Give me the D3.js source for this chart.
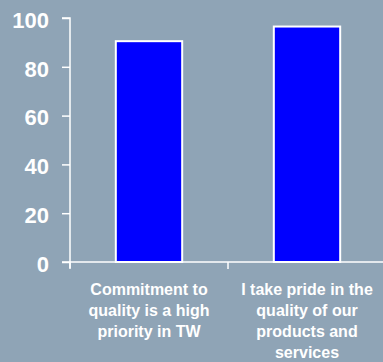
<!DOCTYPE html>
<html>
<head>
<meta charset="utf-8">
<script src="https://cdn.jsdelivr.net/npm/d3@7"></script>
<style>
  html, body { margin: 0; padding: 0; background: #8fa4b6; }
  svg { display: block; }
  text { font-family: "Liberation Sans", Arial, sans-serif; font-weight: bold; fill: #ffffff; }
</style>
</head>
<body>
<svg id="chart" width="383" height="362"></svg>
<script>
const categories = [
  ["Commitment to", "quality is a high", "priority in TW"],
  ["I take pride in the", "quality of our", "products and", "services"]
];
const values = [90.5, 96.5];
const yTicks = [0, 20, 40, 60, 80, 100];

const svg = d3.select("#chart");
const margin = { left: 70, top: 18 };
const plotRight = 386;
const yBottom = 262;

const x = d3.scaleBand()
  .domain(d3.range(categories.length))
  .range([margin.left, plotRight])
  .paddingInner(0.58)
  .paddingOuter(0.29);

const y = d3.scaleLinear().domain([0, 100]).range([yBottom, margin.top]);

// y axis
const yAxis = svg.append("g")
  .attr("transform", `translate(${margin.left},0)`)
  .call(d3.axisLeft(y).tickValues(yTicks).tickSize(8).tickPadding(13));
yAxis.selectAll("path, line").attr("stroke", "#ffffff").attr("stroke-width", 1.5);
yAxis.select(".domain").attr("d", `M-8,${y(100)}H0V${yBottom + 6}`);
yAxis.selectAll("text")
  .attr("fill", "#ffffff")
  .attr("dy", "0.42em")
  .style("font-size", "22px")
  .style("font-family", "Liberation Sans, Arial, sans-serif")
  .style("font-weight", "bold");

// bars
svg.selectAll("rect.bar")
  .data(values)
  .enter().append("rect")
  .attr("class", "bar")
  .attr("x", (d, i) => x(i))
  .attr("width", x.bandwidth())
  .attr("y", d => y(d))
  .attr("height", d => yBottom - y(d))
  .attr("fill", "#0000ff")
  .attr("stroke", "#ffffff")
  .attr("stroke-width", 2);

// x axis line with category dividers
const xg = svg.append("g");
xg.append("line")
  .attr("x1", margin.left - 8).attr("x2", plotRight)
  .attr("y1", yBottom).attr("y2", yBottom)
  .attr("stroke", "#ffffff").attr("stroke-width", 1.5);
const step = x.step();
const dividers = d3.range(categories.length).map(i => x(i) - x.paddingOuter() * step);
xg.selectAll("line.div")
  .data(dividers)
  .enter().append("line")
  .attr("class", "div")
  .attr("x1", d => d).attr("x2", d => d)
  .attr("y1", yBottom).attr("y2", yBottom + 7)
  .attr("stroke", "#ffffff").attr("stroke-width", 1.5);

// category labels
const lbl = svg.selectAll("text.cat")
  .data(categories)
  .enter().append("text")
  .attr("class", "cat")
  .attr("text-anchor", "middle")
  .attr("x", (d, i) => x(i) + x.bandwidth() / 2)
  .attr("y", 295)
  .style("font-size", "16px");
lbl.selectAll("tspan")
  .data(d => d)
  .enter().append("tspan")
  .attr("x", function () { return d3.select(this.parentNode).attr("x"); })
  .attr("dy", (d, i) => i === 0 ? 0 : 21)
  .text(d => d);
</script>
</body>
</html>
